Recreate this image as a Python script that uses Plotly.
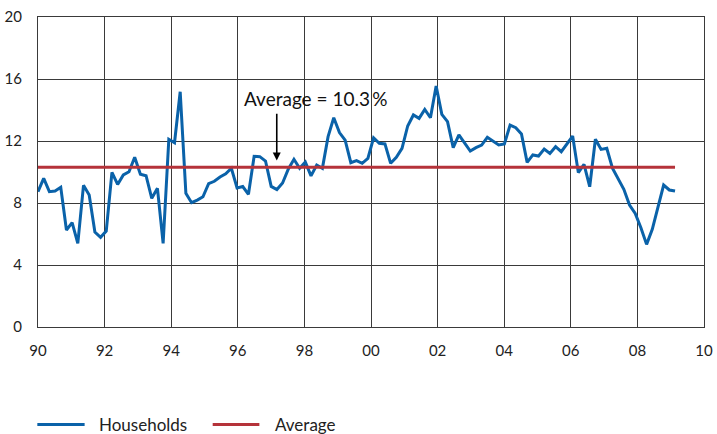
import numpy as np
import plotly.graph_objects as go

households = [
    8.73, 9.59, 8.73, 8.77, 9.01, 6.26, 6.73, 5.40, 9.14, 8.52,
    6.13, 5.79, 6.19, 9.98, 9.20, 9.81, 10.02, 10.95, 9.85, 9.76,
    8.30, 8.95, 5.40, 12.11, 11.89, 15.18, 8.62, 8.02, 8.19, 8.40,
    9.25, 9.40, 9.68, 9.88, 10.24, 8.97, 9.06, 8.56, 11.01, 10.99,
    10.71, 9.07, 8.87, 9.29, 10.18, 10.82, 10.24, 10.64, 9.75, 10.45,
    10.24, 12.28, 13.50, 12.54, 12.06, 10.60, 10.74, 10.56, 10.88, 12.21,
    11.85, 11.81, 10.56, 10.95, 11.53, 12.97, 13.68, 13.46, 14.04, 13.50,
    15.55, 13.72, 13.25, 11.57, 12.39, 11.85, 11.35, 11.57, 11.74, 12.24,
    12.00, 11.74, 11.81, 13.03, 12.86, 12.45, 10.62, 11.10, 11.03, 11.48,
    11.20, 11.63, 11.31, 11.81, 12.32, 9.96, 10.49, 9.05, 12.11, 11.46,
    11.53, 10.24, 9.55, 8.88, 7.87, 7.33, 6.41, 5.33, 6.30, 7.66,
    9.16, 8.84, 8.77,
]
average_value = 10.3
start_year = 1990.0
end_year = 2009.13
x_tick_vals = [1990, 1992, 1994, 1996, 1998, 2000, 2002, 2004, 2006, 2008, 2010]
x_tick_text = ["90", "92", "94", "96", "98", "00", "02", "04", "06", "08", "10"]
y_tick_vals = [0, 4, 8, 12, 16, 20]
series_names = ["Households", "Average"]

x = np.linspace(start_year, end_year, len(households))
avg = [average_value] * len(households)

BLUE = "#0A62A9"
RED = "#B5333A"
GRID = "#3a3a3a"
FONT = "Lato"

fig = go.Figure()
fig.add_trace(go.Scatter(x=x, y=households, mode="lines", name=series_names[0],
                         line=dict(color=BLUE, width=3), showlegend=False))
fig.add_trace(go.Scatter(x=x, y=avg, mode="lines", name=series_names[1],
                         line=dict(color=RED, width=3), showlegend=False))

fig.add_annotation(x=1996.12, y=14.77, xref="x", yref="y", text="Average = 10.3\u2009%",
                   showarrow=False, xanchor="left", yanchor="middle",
                   font=dict(family=FONT, size=19, color="#111"))
fig.add_annotation(x=1997.17, y=10.75, ax=1997.17, ay=13.85, xref="x", yref="y",
                   axref="x", ayref="y", text="", showarrow=True,
                   arrowhead=2, arrowsize=1, arrowwidth=1.6, arrowcolor="#000")

# custom legend (placed below the plot area, in paper coordinates)
leg_y = -0.3145
legend_items = [
    (series_names[0], BLUE, -0.001, 0.070, 0.0892),
    (series_names[1], RED, 0.2623, 0.3324, 0.3529),
]
for name, color, lx0, lx1, tx in legend_items:
    fig.add_shape(type="line", xref="paper", yref="paper", x0=lx0, x1=lx1,
                  y0=leg_y, y1=leg_y, line=dict(color=color, width=3))
    fig.add_annotation(x=tx, y=leg_y, xref="paper", yref="paper", text=name,
                       showarrow=False, xanchor="left", yanchor="middle",
                       font=dict(family=FONT, size=17, color="#222"))

fig.update_layout(
    width=717, height=434,
    margin=dict(l=38, r=13, t=17, b=107, autoexpand=False),
    paper_bgcolor="white", plot_bgcolor="white",
    font=dict(family=FONT, size=15, color="#222"),
    showlegend=False,
)
fig.update_xaxes(range=[1990, 2010], tickvals=x_tick_vals, ticktext=x_tick_text,
                 showgrid=True, gridcolor=GRID, gridwidth=1,
                 showline=True, linecolor=GRID, linewidth=1, mirror=True,
                 ticks="", zeroline=False, ticklabelstandoff=10, automargin=False,
                 tickfont=dict(size=15))
fig.update_yaxes(range=[0, 20], tickvals=y_tick_vals,
                 showgrid=True, gridcolor=GRID, gridwidth=1,
                 showline=True, linecolor=GRID, linewidth=1, mirror=True,
                 ticks="", zeroline=False, ticklabelstandoff=12, automargin=False,
                 tickfont=dict(size=15))

fig.write_html("out.html",
               config={"displayModeBar": False},
               post_script="document.body.style.margin='0';document.body.style.overflow='hidden';")
